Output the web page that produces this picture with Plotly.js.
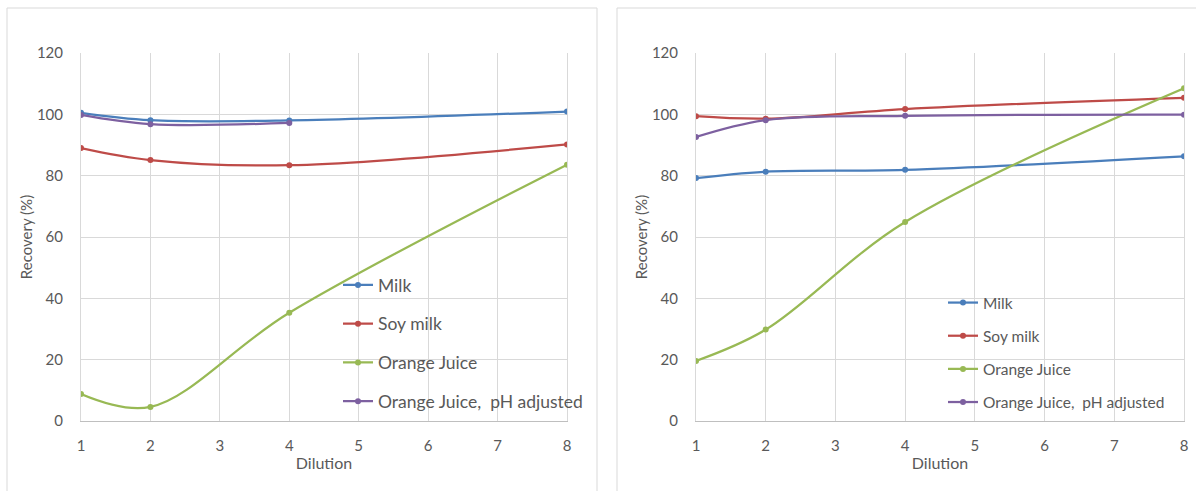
<!DOCTYPE html>
<html>
<head>
<meta charset="utf-8">
<script src="https://cdn.plot.ly/plotly-3.0.1.min.js"></script>
<style>html,body{margin:0;padding:0;background:#fff;}#chart{width:1196px;height:491px;}</style>
</head>
<body>
<div id="chart"></div>
<script>
// Dilution levels
const dilution = [1, 2, 4, 8];
const dilutionPh = [1, 2, 4];
const seriesNames = ["Milk", "Soy milk", "Orange Juice", "Orange Juice,  pH adjusted"];
const colors = ["#4a7ebb", "#be4b48", "#98b954", "#7d60a0"];

// Left panel
const leftMilk = [100.5, 98.1, 98.0, 100.9];
const leftSoy = [89.0, 85.1, 83.4, 90.2];
const leftOJ = [8.8, 4.6, 35.3, 83.6];
const leftOJph = [99.8, 96.8, 97.2];

// Right panel
const rightMilk = [79.2, 81.3, 81.9, 86.3];
const rightSoy = [99.4, 98.6, 101.7, 105.4];
const rightOJ = [19.6, 29.8, 64.9, 108.5];
const rightOJph = [92.6, 98.1, 99.5, 99.9];

const xTicks = [1, 2, 3, 4, 5, 6, 7, 8];
const yTicks = [0, 20, 40, 60, 80, 100, 120];

const FONT = "Lato, 'Open Sans', sans-serif";
const TXT = "#595959";

function tr(x, y, i, xa, ya, leg) {
  return {
    x: x, y: y, name: seriesNames[i], type: "scatter", mode: "lines+markers",
    line: {color: colors[i], width: 2.25, shape: "spline", smoothing: 1},
    marker: {color: colors[i], size: 6},
    xaxis: xa, yaxis: ya, legend: leg, legendgroup: leg + i
  };
}

const data = [
  tr(dilution, leftMilk, 0, "x", "y", "legend"),
  tr(dilution, leftSoy, 1, "x", "y", "legend"),
  tr(dilution, leftOJ, 2, "x", "y", "legend"),
  tr(dilutionPh, leftOJph, 3, "x", "y", "legend"),
  tr(dilution, rightMilk, 0, "x2", "y2", "legend2"),
  tr(dilution, rightSoy, 1, "x2", "y2", "legend2"),
  tr(dilution, rightOJ, 2, "x2", "y2", "legend2"),
  tr(dilution, rightOJph, 3, "x2", "y2", "legend2")
];

const W = 1196, H = 491;
const px = v => v / W;
const py = v => 1 - v / H;

function xax(d0, d1, anchor) {
  return {
    domain: [px(d0), px(d1)], range: [1, 8], anchor: anchor,
    tickvals: xTicks, ticktext: xTicks.map(String),
    showgrid: true, gridcolor: "#d9d9d9", gridwidth: 1,
    showline: true, linecolor: "#bfbfbf", linewidth: 1,
    zeroline: false, ticks: "", ticklabelstandoff: 11,
    tickfont: {family: FONT, size: 15, color: TXT},
    title: {text: "Dilution", font: {family: FONT, size: 16, color: TXT}, standoff: 4}
  };
}
function yax(anchor) {
  return {
    domain: [py(421), py(53)], range: [0, 120], anchor: anchor,
    tickvals: yTicks, ticktext: yTicks.map(String),
    showgrid: true, gridcolor: "#d9d9d9", gridwidth: 1,
    showline: true, linecolor: "#d9d9d9", mirror: true, linewidth: 1,
    zeroline: false, ticks: "", ticklabelstandoff: 14,
    tickfont: {family: FONT, size: 15, color: TXT},
    title: {text: "Recovery (%)", font: {family: FONT, size: 15, color: TXT}, standoff: 0}
  };
}

const legendBase = {
  font: {family: FONT, size: 17.5, color: TXT},
  bgcolor: "rgba(0,0,0,0)", borderwidth: 0,
  itemwidth: 30, tracegroupgap: 13,
  xanchor: "left", yanchor: "top"
};

const layout = {
  width: W, height: H,
  margin: {l: 0, r: 0, t: 0, b: 0},
  paper_bgcolor: "#ffffff", plot_bgcolor: "#ffffff",
  font: {family: FONT, color: TXT},
  xaxis: xax(81, 567, "y"),
  yaxis: yax("x"),
  xaxis2: xax(696, 1184, "y2"),
  yaxis2: yax("x2"),
  legend: Object.assign({}, legendBase, {x: px(338), y: py(267)}),
  legend2: Object.assign({}, legendBase, {x: px(943), y: py(286), tracegroupgap: 10,
    font: {family: FONT, size: 15.5, color: TXT}}),
  shapes: [
    {type: "rect", xref: "paper", yref: "paper", x0: px(7), x1: px(597), y0: py(500), y1: py(8),
     line: {color: "#d9d9d9", width: 1}, fillcolor: "rgba(0,0,0,0)", layer: "below"},
    {type: "rect", xref: "paper", yref: "paper", x0: px(617), x1: px(1205), y0: py(500), y1: py(8),
     line: {color: "#d9d9d9", width: 1}, fillcolor: "rgba(0,0,0,0)", layer: "below"}
  ],
  showlegend: true
};

Plotly.newPlot("chart", data, layout, {displayModeBar: false, staticPlot: true});
</script>
</body>
</html>
